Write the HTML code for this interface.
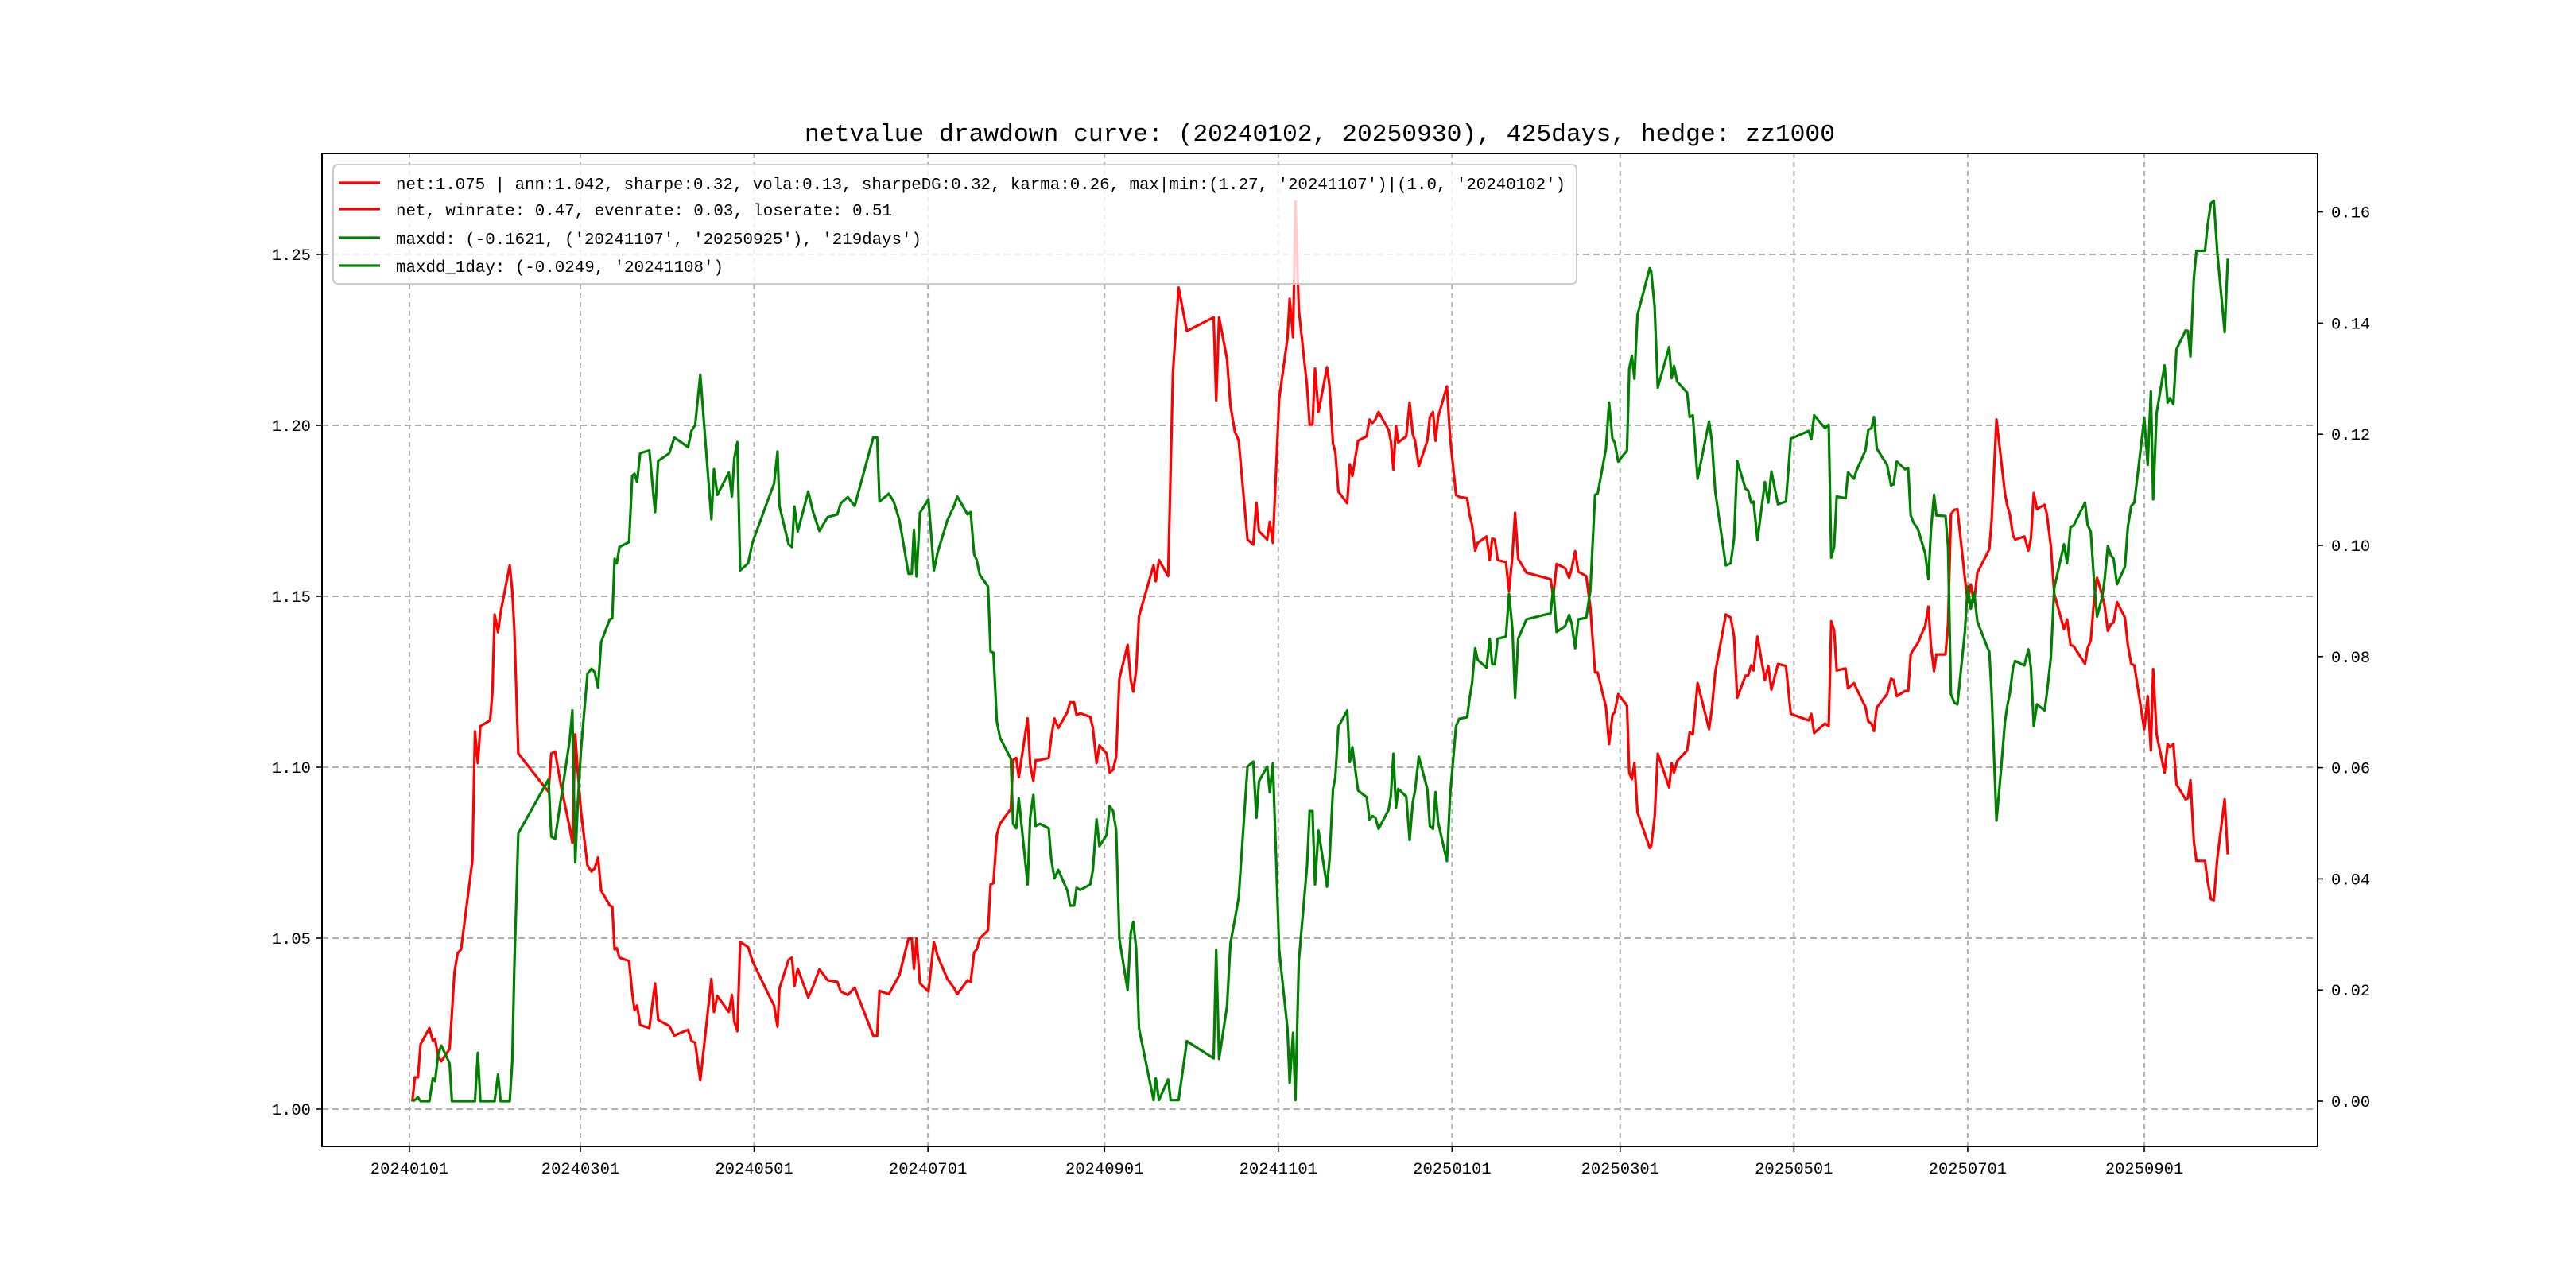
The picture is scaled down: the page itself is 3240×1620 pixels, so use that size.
<!DOCTYPE html>
<html><head><meta charset="utf-8"><title>netvalue drawdown curve</title>
<style>
html,body{margin:0;padding:0;background:#fff;}
svg{display:block;font-family:"Liberation Mono","DejaVu Sans Mono",monospace;}
</style></head>
<body>
<svg id="chart" width="3240" height="1620" viewBox="0 0 3240 1620" xmlns="http://www.w3.org/2000/svg">
<rect x="0" y="0" width="3240" height="1620" fill="#fff"/>
<text x="1660" y="177" font-size="31" text-anchor="middle" textLength="1296" lengthAdjust="spacingAndGlyphs" fill="#000">netvalue drawdown curve: (20240102, 20250930), 425days, hedge: zz1000</text>
<g id="grid"></g>
<g id="series"></g>
<g id="axes"></g>
<g id="legend"></g>
</svg>
<script>
const dayOffsets = [1.0,1.9,3.0,3.9,7.0,8.2,9.0,10.1,11.2,14.1,14.9,15.8,16.9,18.1,22.1,23.0,24.0,24.9,28.3,29.1,29.9,31.1,32.0,35.2,36.1,36.8,38.2,48.8,49.8,51.1,53.4,56.2,57.2,58.2,59.1,60.2,62.5,63.9,65.0,66.2,67.3,70.3,71.2,72.0,72.8,73.7,77.1,78.2,79.0,79.9,81.0,84.2,86.2,87.3,91.2,93.0,97.8,99.0,100.3,102.1,106.0,106.9,108.1,112.1,113.2,114.0,115.1,116.1,118.9,120.4,126.3,128.0,129.2,129.9,133.1,134.3,135.1,136.3,140.0,141.7,143.9,146.8,150.2,151.4,153.9,156.3,162.8,164.2,165.0,
168.3,170.0,172.0,175.2,176.3,177.1,178.0,179.2,182.2,184.1,185.4,188.8,191.1,192.3,195.9,197.0,198.2,199.1,200.2,203.1,204.0,205.0,206.2,207.3,211.1,211.9,213.0,213.9,217.0,217.9,219.0,219.8,221.3,224.4,225.3,226.4,227.8,231.0,231.9,233.3,234.2,235.5,239.0,239.9,241.2,242.2,244.7,245.8,247.0,248.1,249.2,252.1,253.2,254.1,255.1,256.1,261.2,262.0,263.1,266.3,267.2,268.0,270.0,272.9,282.3,283.2,284.2,287.0,288.2,289.7,291.1,294.2,296.2,297.3,298.2,301.1,302.0,303.1,305.3,308.2,309.0,310.2,311.0,312.2,315.1,316.0,317.0,317.9,319.1,322.1,323.0,324.2,325.0,326.1,329.2,330.1,331.0,333.0,336.0,337.0,338.1,
339.1,340.2,343.7,344.5,345.4,346.3,347.1,349.9,351.1,352.2,353.0,354.3,357.3,358.2,359.3,360.2,361.1,364.2,365.3,367.4,368.5,371.3,372.1,373.0,374.1,375.0,378.1,379.2,380.1,381.0,382.0,384.9,386.0,387.2,388.1,389.2,392.1,400.6,401.5,402.7,405.7,407.1,408.0,409.2,410.3,413.1,414.5,416.2,417.1,420.0,421.1,422.3,423.1,424.3,427.4,428.2,429.1,430.0,431.1,435.4,435.9,437.1,438.2,442.2,443.1,443.9,445.0,448.5,449.4,450.5,452.2,456.2,457.2,458.4,462.1,463.8,465.0,466.1,469.0,469.9,471.0,471.8,473.2,475.8,477.0,478.1,480.4,483.2,484.9,491.2,492.1,493.1,496.9,
498.2,499.1,500.1,501.0,504.1,505.0,507.1,507.9,511.1,512.1,513.2,514.1,515.1,518.7,520.1,521.0,522.1,525.0,526.1,527.0,528.0,529.5,532.1,533.2,534.1,535.2,536.0,539.2,540.1,541.1,542.3,543.4,546.0,547.0,548.1,549.2,550.4,554.0,554.6,555.4,557.1,558.6,560.1,560.9,561.8,562.9,563.7,566.9,568.3,569.2,570.2,571.3,574.0,574.8,576.2,577.4,580.8,581.9,583.1,584.2,588.2,589.1,590.2,591.4,592.4,594.2,595.0,596.2,597.3,598.2,599.4,602.2,603.2,604.4,605.5,609.0,610.2,611.3,612.1,613.3,616.1,617.2,618.0,619.2,620.3,623.5,624.3,625.2,626.4,627.3,630.3,631.2,632.4,633.4,634.6,637.2,638.3];
const netValues = [1.0022,1.0093,1.0093,1.0190,1.0237,1.0200,1.0205,1.0153,1.0140,1.0176,1.0280,1.0400,1.0456,1.0467,1.0728,1.1105,1.1012,1.1120,1.1137,1.1218,1.1447,1.1395,1.1453,1.1591,1.1516,1.1404,1.1040,1.0928,1.1040,1.1046,1.0937,1.0825,1.0779,1.1096,1.0984,1.0872,1.0713,1.0695,1.0704,1.0736,1.0639,1.0596,1.0592,1.0467,1.0471,1.0443,1.0433,1.0340,1.0289,1.0303,1.0246,1.0237,1.0368,1.0261,1.0243,1.0215,1.0232,1.0200,1.0194,1.0084,1.0381,1.0284,1.0331,1.0284,1.0334,1.0256,1.0228,1.0489,1.0474,1.0433,1.0331,1.0303,1.0241,1.0353,1.0437,1.0443,1.0359,1.0411,1.0327,1.0359,1.0409,1.0377,1.0372,1.0344,1.0334,1.0355,1.0215,1.0215,1.0346,
1.0336,1.0362,1.0392,1.0499,1.0499,1.0411,1.0499,1.0368,1.0344,1.0489,1.0448,1.0381,1.0355,1.0336,1.0377,1.0372,1.0458,1.0467,1.0499,1.0523,1.0657,1.0661,1.0803,1.0835,1.0878,1.1021,1.1027,1.0971,1.1143,1.1008,1.0960,1.1020,1.1021,1.1027,1.1087,1.1143,1.1115,1.1162,1.1190,1.1190,1.1152,1.1158,1.1147,1.1115,1.1012,1.1064,1.1040,1.0984,1.0993,1.1031,1.1259,1.1358,1.1255,1.1221,1.1283,1.1442,1.1591,1.1544,1.1606,1.1559,1.1871,1.2151,1.2403,1.2276,1.2316,1.2073,1.2316,1.2194,1.2058,1.1983,1.1955,1.1666,1.1651,1.1774,1.1690,1.1666,1.1718,1.1656,1.2077,1.2254,1.2370,1.2258,1.2655,1.2338,1.2114,1.2002,1.2002,1.2166,1.2039,1.2170,1.2114,1.1946,1.1923,1.1806,1.1772,1.1886,1.1852,1.1955,1.1968,1.2017,1.2007,
1.2017,1.2039,1.1987,1.1955,1.1871,1.1998,1.1950,1.1968,1.2067,1.1974,1.1955,1.1880,1.1955,1.2024,1.2039,1.1955,1.2024,1.2114,1.1964,1.1796,1.1791,1.1787,1.1740,1.1709,1.1634,1.1656,1.1675,1.1606,1.1669,1.1666,1.1606,1.1600,1.1516,1.1619,1.1744,1.1610,1.1569,1.1550,1.1498,1.1595,1.1582,1.1554,1.1582,1.1632,1.1572,1.1559,1.1470,1.1277,1.1277,1.1176,1.1068,1.1152,1.1162,1.1214,1.1180,1.0984,1.0965,1.1012,1.0868,1.0764,1.0769,1.0853,1.1040,1.0941,1.1012,1.0984,1.1018,1.1049,1.1102,1.1096,1.1246,1.1111,1.1171,1.1277,1.1447,1.1438,1.1382,1.1203,1.1268,1.1268,1.1298,1.1283,1.1382,1.1255,1.1296,1.1227,1.1302,1.1296,1.1156,1.1137,1.1156,1.1100,1.1128,
1.1120,1.1427,1.1401,1.1283,1.1289,1.1231,1.1246,1.1231,1.1176,1.1134,1.1128,1.1106,1.1175,1.1214,1.1259,1.1255,1.1208,1.1223,1.1223,1.1330,1.1345,1.1363,1.1414,1.1470,1.1354,1.1281,1.1330,1.1330,1.1419,1.1740,1.1753,1.1755,1.1554,1.1483,1.1535,1.1483,1.1569,1.1628,1.1638,1.1722,1.2017,1.1908,1.1800,1.1765,1.1740,1.1677,1.1666,1.1675,1.1634,1.1669,1.1802,1.1755,1.1768,1.1740,1.1647,1.1507,1.1404,1.1432,1.1358,1.1354,1.1302,1.1348,1.1371,1.1494,1.1554,1.1503,1.1475,1.1399,1.1419,1.1423,1.1483,1.1438,1.1358,1.1302,1.1298,1.1111,1.1208,1.1049,1.1287,1.1096,1.0984,1.1068,1.1059,1.1068,1.0950,1.0906,1.0909,1.0962,1.0782,1.0726,1.0726,1.0667,1.0614,1.0611,1.0732,1.0906,1.0745];
const maxddValues = [0,0.0002,0.0007,0,0,0.0041,0.0036,0.0085,0.0100,0.0068,0,0,0,0,0,0,0.0087,0,0,0,0,0.0048,0,0,0.0071,0.0240,0.0482,0.0579,0.0476,0.0472,0.0551,0.0648,0.0703,0.0430,0.0539,0.0631,0.0769,0.0778,0.0772,0.0744,0.0826,0.0867,0.0869,0.0976,0.0968,0.0997,0.1006,0.1125,0.1129,0.1114,0.1166,0.1171,0.1060,0.1152,0.1166,0.1194,0.1177,0.1206,0.1217,0.1307,0.1047,0.1137,0.1091,0.1131,0.1088,0.1156,0.1186,0.0955,0.0968,0.1005,0.1088,0.1111,0.1169,0.1071,0.1002,0.0997,0.1070,0.1025,0.1097,0.1060,0.1026,0.1051,0.1056,0.1076,0.1087,0.1071,0.1194,0.1194,0.1079,
0.1093,0.1079,0.1045,0.0949,0.0949,0.1028,0.0944,0.1059,0.1083,0.0955,0.0987,0.1045,0.1070,0.1088,0.1056,0.1060,0.0984,0.0974,0.0947,0.0926,0.0809,0.0807,0.0683,0.0654,0.0616,0.0499,0.0491,0.0545,0.0390,0.0510,0.0551,0.0495,0.0499,0.0491,0.0436,0.0401,0.0416,0.0378,0.0352,0.0352,0.0384,0.0380,0.0390,0.0416,0.0507,0.0459,0.0479,0.0531,0.0522,0.0487,0.0292,0.0200,0.0303,0.0323,0.0275,0.0131,0.0002,0.0041,0.0002,0.0039,0.0002,0.0002,0.0002,0.0108,0.0077,0.0272,0.0076,0.0171,0.0284,0.0326,0.0367,0.0602,0.0611,0.0510,0.0576,0.0602,0.0556,0.0608,0.0272,0.0131,0.0033,0.0123,0.0002,0.0252,0.0424,0.0522,0.0522,0.0390,0.0487,0.0386,0.0436,0.0562,0.0582,0.0674,0.0703,0.0610,0.0637,0.0559,0.0547,0.0507,0.0513,
0.0510,0.0490,0.0524,0.0548,0.0625,0.0528,0.0562,0.0548,0.0470,0.0537,0.0559,0.0620,0.0562,0.0495,0.0490,0.0556,0.0502,0.0432,0.0551,0.0675,0.0688,0.0691,0.0723,0.0752,0.0815,0.0794,0.0780,0.0832,0.0786,0.0786,0.0832,0.0836,0.0913,0.0849,0.0726,0.0832,0.0867,0.0878,0.0924,0.0844,0.0855,0.0875,0.0859,0.0815,0.0867,0.0870,0.0918,0.1091,0.1093,0.1174,0.1257,0.1192,0.1185,0.1151,0.1171,0.1318,0.1341,0.1300,0.1415,0.1499,0.1493,0.1430,0.1284,0.1357,0.1301,0.1323,0.1295,0.1275,0.1231,0.1234,0.1120,0.1223,0.1188,0.1097,0.0964,0.0968,0.1013,0.1152,0.1102,0.1099,0.1077,0.1079,0.1010,0.1114,0.1077,0.1133,0.1074,0.1079,0.1192,0.1206,0.1191,0.1234,0.1211,
0.1217,0.0978,0.0997,0.1088,0.1085,0.1131,0.1120,0.1134,0.1171,0.1208,0.1211,0.1231,0.1174,0.1145,0.1108,0.1110,0.1151,0.1137,0.1139,0.1054,0.1041,0.1030,0.0985,0.0939,0.1028,0.1091,0.1054,0.1053,0.0997,0.0732,0.0717,0.0714,0.0844,0.0926,0.0886,0.0916,0.0863,0.0815,0.0809,0.0734,0.0505,0.0591,0.0683,0.0711,0.0734,0.0780,0.0792,0.0784,0.0813,0.0780,0.0675,0.0714,0.0703,0.0734,0.0798,0.0924,0.1002,0.0968,0.1033,0.1036,0.1077,0.1037,0.1025,0.0932,0.0872,0.0907,0.0936,0.0999,0.0982,0.0976,0.0930,0.0962,0.1033,0.1071,0.1077,0.1229,0.1145,0.1277,0.1083,0.1238,0.1324,0.1257,0.1265,0.1254,0.1353,0.1387,0.1386,0.1340,0.1482,0.1530,0.1530,0.1576,0.1616,0.1620,0.1528,0.1384,0.1516];
const xTickLabels = ["20240101","20240301","20240501","20240701","20240901","20241101","20250101","20250301","20250501","20250701","20250901"];
const leftTickValues = [1.00,1.05,1.10,1.15,1.20,1.25];
const rightTickValues = [0.00,0.02,0.04,0.06,0.08,0.10,0.12,0.14,0.16];
const legendLabels = ["net:1.075 | ann:1.042, sharpe:0.32, vola:0.13, sharpeDG:0.32, karma:0.26, max|min:(1.27, '20241107')|(1.0, '20240102')","net, winrate: 0.47, evenrate: 0.03, loserate: 0.51","maxdd: (-0.1621, ('20241107', '20250925'), '219days')","maxdd_1day: (-0.0249, '20241108')"];

const NS = "http://www.w3.org/2000/svg";
const L = 405, R = 2915, T = 193, B = 1442;
const X0 = 515, PXDAY = 3.583;
function xScale(d){ return X0 + d * PXDAY; }
function yLeft(v){ return 1395 - (v - 1) * 4300; }
function yRight(v){ return 1385 - v * 6990; }
function dayOf(label){
  const y = +label.slice(0,4), m = +label.slice(4,6) - 1, d = +label.slice(6,8);
  return (Date.UTC(y,m,d) - Date.UTC(2024,0,1)) / 86400000;
}
function mk(tag, attrs, parent){
  const e = document.createElementNS(NS, tag);
  for (const k in attrs) e.setAttribute(k, attrs[k]);
  parent.appendChild(e);
  return e;
}
const grid = document.getElementById('grid');
const axes = document.getElementById('axes');
const series = document.getElementById('series');
const legend = document.getElementById('legend');

leftTickValues.forEach(v => {
  const y = yLeft(v);
  const g = mk('line', {x1:L, x2:R, y1:y, y2:y, stroke:'#b0b0b0', 'stroke-width':2, 'stroke-dasharray':'8,5'}, grid);
  
  
  const t = mk('line', {x1:L-7, x2:L, y1:y, y2:y, stroke:'#000', 'stroke-width':1.6}, axes);
  
  
  const lab = mk('text', {x:L-14, y:y+7, 'font-size':20.5, 'text-anchor':'end', fill:'#000'}, axes);
  lab.textContent = v.toFixed(2);
  
  
});
xTickLabels.forEach(s => {
  const x = xScale(dayOf(s));
  const g = mk('line', {x1:x, x2:x, y1:T, y2:B, stroke:'#b0b0b0', 'stroke-width':2, 'stroke-dasharray':'6,5'}, grid);
  
  
  const t = mk('line', {x1:x, x2:x, y1:B, y2:B+7, stroke:'#000', 'stroke-width':1.6}, axes);
  
  
  const lab = mk('text', {x:x, y:B+34, 'font-size':20.5, 'text-anchor':'middle', fill:'#000'}, axes);
  lab.textContent = s;
  
  
});
rightTickValues.forEach(v => {
  const y = yRight(v);
  const t = mk('line', {x1:R, x2:R+7, y1:y, y2:y, stroke:'#000', 'stroke-width':1.6}, axes);
  
  
  const lab = mk('text', {x:R+17, y:y+7, 'font-size':20.5, 'text-anchor':'start', fill:'#000'}, axes);
  lab.textContent = v.toFixed(2);
  
  
});
function pts(vals, ys){ return dayOffsets.map((d,i) => xScale(d).toFixed(1) + ',' + ys(vals[i]).toFixed(1)).join(' '); }
const netLine = mk('polyline', {points:pts(netValues, yLeft), fill:'none', stroke:'#ff0000', 'stroke-width':3.2, 'stroke-linejoin':'round'}, series);


const ddLine = mk('polyline', {points:pts(maxddValues, yRight), fill:'none', stroke:'#008000', 'stroke-width':3.2, 'stroke-linejoin':'round'}, series);


const frame = mk('rect', {x:L, y:T, width:R-L, height:B-T, fill:'none', stroke:'#000', 'stroke-width':2}, axes);


const box = mk('rect', {x:419, y:207, width:1564, height:150, rx:6, fill:'#fff', 'fill-opacity':0.8, stroke:'#cccccc', 'stroke-width':2}, legend);


const rowY = [230, 263, 299, 334];
const rowColor = ['#ff0000','#ff0000','#008000','#008000'];
legendLabels.forEach((s,i) => {
  const h = mk('line', {x1:426, x2:478, y1:rowY[i], y2:rowY[i], stroke:rowColor[i], 'stroke-width':3.2}, legend);
  
  
  const t = mk('text', {x:498, y:rowY[i]+8, 'font-size':21.5, textLength:(s.length*12.47).toFixed(0), lengthAdjust:'spacingAndGlyphs', fill:'#000'}, legend);
  t.textContent = s;
  
  
});
</script>
</body></html>
